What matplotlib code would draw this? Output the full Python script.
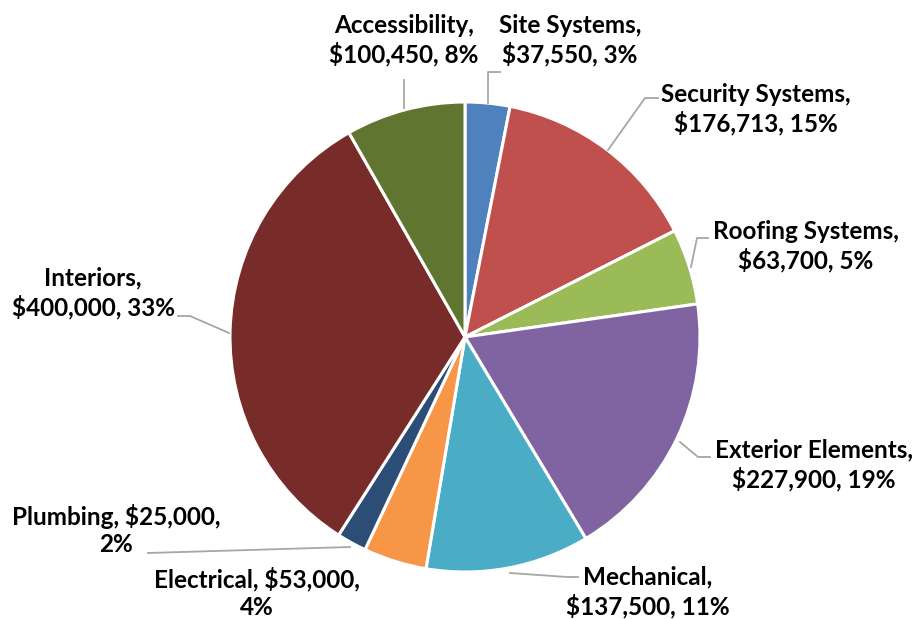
import numpy as np
import matplotlib.pyplot as plt

# data
categories = ['Site Systems', 'Security Systems', 'Roofing Systems', 'Exterior Elements',
              'Mechanical', 'Electrical', 'Plumbing', 'Interiors', 'Accessibility']
costs = [37550, 176713, 63700, 227900, 137500, 53000, 25000, 400000, 100450]
label_text = ['Site Systems,\n$37,550, 3%',
              'Security Systems,\n$176,713, 15%',
              'Roofing Systems,\n$63,700, 5%',
              'Exterior Elements,\n$227,900, 19%',
              'Mechanical,\n$137,500, 11%',
              'Electrical, $53,000,\n4%',
              'Plumbing, $25,000,\n2%',
              'Interiors,\n$400,000, 33%',
              'Accessibility,\n$100,450, 8%']
colors = ['#4F81BD', '#C0504D', '#9BBB59', '#8064A2', '#4BACC6',
          '#F79646', '#2C4D75', '#772C2A', '#5F7530']

W, H = 921, 619
fig = plt.figure(figsize=(W / 100, H / 100), dpi=100)
ax = fig.add_axes([0, 0, 1, 1])

cx, cy, r = 465, H - 337, 235
ax.pie(costs, colors=colors, startangle=90, counterclock=False,
       center=(cx, cy), radius=r, frame=True,
       wedgeprops=dict(edgecolor='white', linewidth=2.2))
ax.set_xlim(0, W)
ax.set_ylim(0, H)
ax.axis('off')

# label positions (pixel, from top)
text_pos = [(570, 40), (756, 109), (806, 246), (814, 465), (648, 592),
            (257, 593), (116, 530), (93, 293), (404, 40)]
leaders = [
    [(488, 103), (488, 72), (500, 72)],
    [(608, 150), (645, 98), (658, 98)],
    [(691, 267), (697, 238), (708, 238)],
    [(680, 442), (698, 457), (710, 457)],
    [(510, 573), (567, 577), (578, 577)],
    None,
    [(350, 547), (148, 553)],
    [(229, 333), (190, 316), (178, 316)],
    [(404, 108), (404, 80)],
]

for txt, (tx, ty), ld in zip(label_text, text_pos, leaders):
    ax.text(tx, H - ty, txt, ha='center', va='center', fontsize=17.5,
            fontweight='bold', family='Lato', linespacing=1.25, color='black')
    if ld:
        xs = [p[0] for p in ld]
        ys = [H - p[1] for p in ld]
        ax.plot(xs, ys, color='#A6A6A6', lw=1.3)

plt.savefig('out.png', dpi=100)
